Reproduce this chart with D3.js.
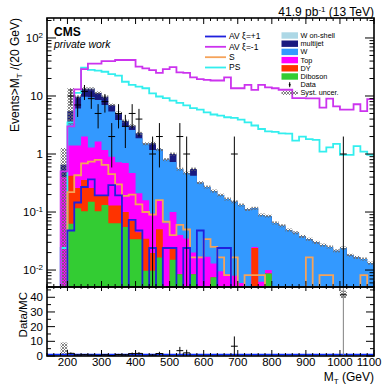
<!DOCTYPE html>
<html>
<head>
<meta charset="utf-8">
<script src="https://cdn.jsdelivr.net/npm/d3@7"></script>
<style>
  html, body { margin: 0; padding: 0; background: #fff; }
  svg { display: block; font-family: "Liberation Sans", Arial, Helvetica, sans-serif; }
</style>
</head>
<body>
<svg id="chart" width="382" height="387"></svg>
<script>
// ---- binning: 48 bins of 20 GeV in M_T, 140 - 1100 GeV ----
const edges = d3.range(140, 1101, 20);

// ---- background stack (events per bin) ----
const diboson = [0,0,0,0.063,0.116,0.103,0.15,0.103,0.132,0.064,0.064,0.055,0.034,0.034,0.0097,0.0097,
  0.0165,0,0.015,0.0085,0,0.0085,0,0,0.0075,0,0,0,0,0,0,0,
  0.0087,0,0,0,0,0,0,0,0,0,0,0,0,0,0,0];
const dy = [0,0,0,0.357,0.144,0.253,0.11,0.087,0.058,0.066,0.066,0.045,0.036,0.011,0.025,0.010,
  0.034,0,0.01,0,0,0,0,0,0,0,0,0,0,0,0.024,0,
  0,0,0,0,0,0,0,0,0,0,0,0,0,0,0,0];
const topQuark = [0,0,0.40,0.98,1.14,1.64,1.04,1.46,0.98,0.77,0.59,0.60,0.40,0.165,0.125,0.075,
  0.11,0.064,0.075,0.0315,0.035,0.0115,0.017,0.017,0.0055,0.0095,0.0085,0.008,0.006,0,0.001,0.0063,
  0.0013,0,0,0,0,0,0,0,0,0,0,0,0,0,0,0];
const wJets = [0,0,0,2.0,4.7,7.7,8.2,6.85,5.83,4.5,3.13,2.26,2.13,1.66,1.34,1.075,
  1.03,0.736,0.63,0.51,0.435,0.40,0.303,0.253,0.217,0.1865,0.1595,0.142,0.126,0.111,0.091,0.0827,
  0.075,0.065,0.058,0.049,0.044,0.038,0.034,0.030,0.027,0.025,0.0215,0.024,0.018,0.0165,0.0155,0.0132];
const multijet = [0,0,0.25,2.1,3.6,3.6,3.8,2.8,2.7,1.6,1.25,0.74,0.47,0.4,0,0.36,
  0,0,0.27,0,0,0.13,0,0,0,0,0,0,0,0,0,0,
  0,0,0,0,0,0,0,0,0,0,0,0,0,0,0,0];
const wOnShell = [0,0,0,0,0,0,0,0,0,0,0,0,0,0,0,0,
  0,0,0,0,0,0,0,0,0,0,0,0,0,0,0,0,
  0,0,0,0,0,0,0,0,0,0,0,0,0,0,0,0];

// ---- relative systematic uncertainty on the total (up / down) ----
const sysUp = [0,0,0.95,1.49,0.06,0.06,0.06,0.06,0.06,0.06,0.06,0.06,0.06,0.06,0.06,0.06,
  0.06,0.06,0.06,0.06,0.06,0.06,0.06,0.06,0.06,0.06,0.06,0.06,0.06,0.06,0.06,0.06,
  0.06,0.06,0.06,0.06,0.06,0.06,0.06,0.06,0.06,0.06,0.06,0.06,0.06,0.06,0.06,0.06];
const sysDown = [0,0,1.0,0.42,0.06,0.06,0.06,0.06,0.06,0.06,0.06,0.06,0.06,0.06,0.06,0.06,
  0.06,0.06,0.06,0.06,0.06,0.06,0.06,0.06,0.06,0.06,0.06,0.06,0.06,0.06,0.06,0.06,
  0.06,0.06,0.06,0.06,0.06,0.06,0.06,0.06,0.06,0.06,0.06,0.06,0.06,0.06,0.06,0.06];

// ---- signal hypotheses ----
const avPlus = [0,0,0,0.048,0.146,0.27,0.364,0.194,0.194,0.29,0.194,0,0.073,0.048,0,0.024,
  0,0.024,0.024,0,0.024,0,0.048,0,0,0.024,0.024,0,0,0,0,0,
  0,0,0,0,0,0,0,0,0,0,0,0,0,0,0,0];
const avMinus = [0,0,0.5,3.0,13,29,36,36,40,40,41.7,41.7,41.7,32,30,28,
  25,29,31.5,25.5,25,21,19.5,19,18.5,18.5,21,13.6,13.6,15.5,12.7,15.5,
  14.1,13.6,12.8,12.8,9.2,9.2,9.1,9.1,6.3,9.0,6.6,5.8,5.8,7.2,5.5,8.8];
const sScalar = [0,0,0,0.22,0.43,0.69,0.74,0.79,0.65,0.45,0.30,0.19,0.20,0.135,0.10,0.09,
  0.16,0.068,0.04,0.060,0.050,0.0165,0.0165,0.034,0.025,0.0165,0.0082,0.0165,0,0.0082,0.0082,0.0082,
  0,0,0,0,0,0,0.0165,0,0.0082,0.0082,0,0,0,0,0.0082,0];
const psScalar = [0,0,0.024,3.5,11.3,30.7,28.1,27.3,26.2,23.9,22.4,17.6,15.5,14.5,13.6,11.1,
  9.8,9.2,8.3,7.6,6.9,6.2,5.8,5.2,4.8,4.6,4.3,4.2,3.9,3.5,3.1,2.7,
  2.45,2.4,2.27,2.25,1.7,2.0,1.8,1.75,1.1,1.3,1.5,0.97,0.97,1.37,1.1,0.97];

// ---- observed events ----
const dataObs = [0,0,0,10,7,12,9,5,8,2,5,3,5,4,0,1,
  2,0,0,2,1,0,0,0,0,0,0,1,0,0,0,0,
  0,0,0,0,0,0,0,0,0,0,0,1,0,0,0,0];

// ---- ratio-pad uncertainty boxes ----
const ratioBandBins = [2, 43];
const ratioBandLo = [1.4, 39.5];
const ratioBandHi = [9.2, 44.5];

// ---- axis ticks ----
const xMajorTicks = [200,300,400,500,600,700,800,900,1000,1100];
const yDecades = [0.01, 0.1, 1, 10, 100];
const yDecadeLabels = [["10","-2"],["10","-1"],["1",""],["10",""],["10","2"]];
const ratioTicks = [0,10,20,30,40];

// ---- geometry ----
const F = {x0: 47, x1: 374, y0: 18, y1: 287};
const R = {y0: 287, y1: 356};
const x = d3.scaleLinear().domain([140, 1100]).range([F.x0, F.x1]);
const y = d3.scaleLog().domain([0.0051, 221]).range([F.y1, F.y0]);
const yr = d3.scaleLinear().domain([0, 47]).range([R.y1, R.y0]);
const BOT = F.y1 + 4;
const yv = v => v > 0 ? y(v) : BOT;

const svg = d3.select("#chart");
const defs = svg.append("defs");
defs.append("clipPath").attr("id", "clipMain").append("rect")
  .attr("x", F.x0).attr("y", F.y0).attr("width", F.x1 - F.x0).attr("height", F.y1 - F.y0);
defs.append("clipPath").attr("id", "clipRatio").append("rect")
  .attr("x", F.x0).attr("y", R.y0).attr("width", F.x1 - F.x0).attr("height", R.y1 - R.y0);
const pat = defs.append("pattern").attr("id", "hatch")
  .attr("patternUnits", "userSpaceOnUse").attr("width", 3).attr("height", 3);
pat.append("path").attr("d", "M0,0L3,3M3,0L0,3").attr("stroke", "#6a6a6a").attr("stroke-width", 0.8);

// stacked components, bottom to top
const stackDefs = [
  {name: "Diboson",    color: "#33cc33", vals: diboson},
  {name: "DY",         color: "#ff3300", vals: dy},
  {name: "Top",        color: "#ff00ff", vals: topQuark},
  {name: "W",          color: "#3399ff", vals: wJets},
  {name: "multijet",   color: "#1a1a80", vals: multijet},
  {name: "W on-shell", color: "#add8e6", vals: wOnShell}
];
let running = edges.slice(0, -1).map(() => 0);
stackDefs.forEach(s => {
  running = running.map((r, i) => r + s.vals[i]);
  s.cum = running.slice();
});
const total = stackDefs[stackDefs.length - 1].cum;

const stepPts = vals => edges.map((e, i) => ({e: e, v: vals[Math.min(i, vals.length - 1)]}));
const areaGen = d3.area().x(d => x(d.e)).y0(BOT).y1(d => yv(d.v)).curve(d3.curveStepAfter);
const lineGen = d3.line().x(d => x(d.e)).y(d => yv(d.v)).curve(d3.curveStepAfter);

const main = svg.append("g").attr("clip-path", "url(#clipMain)");

// filled stack, outermost cumulative first
stackDefs.slice().reverse().forEach(s => {
  main.append("path").attr("d", areaGen(stepPts(s.cum))).attr("fill", s.color).attr("stroke", "none");
});

// systematic band on the total
main.append("g").selectAll("rect").data(total.map((t, i) => ({t, i})).filter(d => d.t > 0))
  .join("rect")
  .attr("x", d => x(edges[d.i])).attr("width", d => x(edges[d.i + 1]) - x(edges[d.i]))
  .attr("y", d => yv(d.t * (1 + sysUp[d.i])))
  .attr("height", d => yv(d.t * (1 - sysDown[d.i])) - yv(d.t * (1 + sysUp[d.i])))
  .attr("fill", "url(#hatch)");

// signal outlines
const signals = [
  {name: "PS",      color: "#33eeee", vals: psScalar},
  {name: "AV ξ=-1", color: "#cc33ee", vals: avMinus},
  {name: "S",       color: "#f5a35a", vals: sScalar},
  {name: "AV ξ=+1", color: "#2020dd", vals: avPlus}
];
signals.forEach(s => {
  main.append("path").attr("d", lineGen(stepPts(s.vals)))
    .attr("fill", "none").attr("stroke", s.color).attr("stroke-width", 1.8);
});

// data points with sqrt(N) errors
const obs = dataObs.map((n, i) => ({n, i})).filter(d => d.n > 0);
const dg = main.append("g").attr("stroke", "#000").attr("stroke-width", 1);
obs.forEach(d => {
  const cx = (x(edges[d.i]) + x(edges[d.i + 1])) / 2;
  const err = Math.sqrt(d.n);
  dg.append("line").attr("x1", cx).attr("x2", cx)
    .attr("y1", yv(d.n + err)).attr("y2", yv(d.n - err));
  dg.append("line").attr("x1", x(edges[d.i])).attr("x2", x(edges[d.i + 1]))
    .attr("y1", y(d.n)).attr("y2", y(d.n));
});

// ---- ratio pad ----
const ratio = svg.append("g").attr("clip-path", "url(#clipRatio)");
ratioBandBins.forEach((b, k) => {
  ratio.append("rect").attr("x", x(edges[b])).attr("width", x(edges[b + 1]) - x(edges[b]))
    .attr("y", yr(ratioBandHi[k])).attr("height", yr(ratioBandLo[k]) - yr(ratioBandHi[k]))
    .attr("fill", "url(#hatch)");
});
ratio.append("line").attr("x1", F.x0).attr("x2", F.x1).attr("y1", yr(1)).attr("y2", yr(1))
  .attr("stroke", "#0a2cff").attr("stroke-width", 1.8);
const rg = ratio.append("g").attr("stroke", "#000").attr("stroke-width", 1);
obs.forEach(d => {
  const mc = total[d.i];
  const r = d.n / mc, e = Math.sqrt(d.n) / mc;
  const cx = (x(edges[d.i]) + x(edges[d.i + 1])) / 2;
  rg.append("line").attr("x1", cx).attr("x2", cx)
    .attr("y1", yr(r + e)).attr("y2", yr(Math.max(0, r - e)))
    .attr("stroke", d.n === 1 && r > 20 ? "#808080" : "#000");
  rg.append("line").attr("x1", x(edges[d.i])).attr("x2", x(edges[d.i + 1]))
    .attr("y1", yr(r)).attr("y2", yr(r));
});

// ---- frames and ticks ----
const axes = svg.append("g").attr("stroke", "#000").attr("fill", "none");
axes.append("rect").attr("x", F.x0).attr("y", F.y0).attr("width", F.x1 - F.x0).attr("height", F.y1 - F.y0)
  .attr("stroke-width", 1.6);
axes.append("rect").attr("x", F.x0).attr("y", R.y0).attr("width", F.x1 - F.x0).attr("height", R.y1 - R.y0)
  .attr("stroke-width", 1.6);

const xMinor = d3.range(140, 1101, 20).filter(v => !xMajorTicks.includes(v));
function xTicks(yBase, dir, majLen, minLen) {
  xMajorTicks.forEach(v => axes.append("line").attr("x1", x(v)).attr("x2", x(v))
    .attr("y1", yBase).attr("y2", yBase + dir * majLen).attr("stroke-width", 1));
  xMinor.forEach(v => axes.append("line").attr("x1", x(v)).attr("x2", x(v))
    .attr("y1", yBase).attr("y2", yBase + dir * minLen).attr("stroke-width", 1));
}
xTicks(F.y0, 1, 6, 3);
xTicks(F.y1, -1, 6, 3);
xTicks(R.y0, 1, 4, 2);
xTicks(R.y1, -1, 6, 3);

// log y ticks on both sides
const yMinor = [];
[0.001, 0.01, 0.1, 1, 10, 100].forEach(d => d3.range(2, 10).forEach(m => {
  const v = d * m;
  if (v >= 0.0051 && v <= 221) yMinor.push(v);
}));
[[F.x0, 1], [F.x1, -1]].forEach(([xb, dir]) => {
  yDecades.forEach(v => axes.append("line").attr("x1", xb).attr("x2", xb + dir * 9)
    .attr("y1", y(v)).attr("y2", y(v)).attr("stroke-width", 1));
  yMinor.forEach(v => axes.append("line").attr("x1", xb).attr("x2", xb + dir * 4.5)
    .attr("y1", y(v)).attr("y2", y(v)).attr("stroke-width", 1));
});
// ratio y ticks on both sides
[[F.x0, 1], [F.x1, -1]].forEach(([xb, dir]) => {
  d3.range(0, 46, 5).forEach(v => axes.append("line").attr("x1", xb)
    .attr("x2", xb + dir * (v % 10 === 0 ? 8 : 4))
    .attr("y1", yr(v)).attr("y2", yr(v)).attr("stroke-width", 1));
});

// ---- labels ----
const txt = svg.append("g").attr("fill", "#000");
yDecades.forEach((v, k) => {
  const [base, exp] = yDecadeLabels[k];
  const t = txt.append("text").attr("x", 43).attr("y", y(v)).attr("dy", "0.36em")
    .attr("text-anchor", "end").attr("font-size", 11.5);
  t.append("tspan").text(base);
  if (exp) t.append("tspan").attr("font-size", 8).attr("dy", "-0.55em").text(exp);
});
ratioTicks.forEach(v => {
  txt.append("text").attr("x", 43).attr("y", yr(v)).attr("dy", "0.36em")
    .attr("text-anchor", "end").attr("font-size", 11.5).text(v);
});
xMajorTicks.forEach((v, k) => {
  const last = k === xMajorTicks.length - 1;
  txt.append("text").attr("x", last ? 381.5 : x(v)).attr("y", 366)
    .attr("text-anchor", last ? "end" : "middle")
    .attr("font-size", 11.5).text(v);
});

// axis titles
const xt = txt.append("text").attr("x", 374).attr("y", 381).attr("text-anchor", "end").attr("font-size", 12);
xt.append("tspan").text("M");
xt.append("tspan").attr("font-size", 8).attr("dy", "0.35em").text("T");
xt.append("tspan").attr("dy", "-0.25em").text(" (GeV)");

const yt = txt.append("text").attr("transform", "translate(19,18) rotate(-90)")
  .attr("text-anchor", "end").attr("font-size", 12);
yt.append("tspan").text("Events>M");
yt.append("tspan").attr("font-size", 8).attr("dy", "0.35em").text("T");
yt.append("tspan").attr("dy", "-0.25em").text(" /(20 GeV)");

txt.append("text").attr("transform", "translate(26.5,292) rotate(-90)")
  .attr("text-anchor", "end").attr("font-size", 11.5).text("Data/MC");

const lumi = txt.append("text").attr("x", 374).attr("y", 16).attr("text-anchor", "end").attr("font-size", 12);
lumi.append("tspan").text("41.9 pb");
lumi.append("tspan").attr("font-size", 8).attr("dy", "-0.55em").text("-1");
lumi.append("tspan").attr("dy", "0.35em").text(" (13 TeV)");

txt.append("text").attr("x", 54).attr("y", 35.5).attr("font-size", 12).attr("font-weight", "bold").text("CMS");
txt.append("text").attr("x", 54).attr("y", 48).attr("font-size", 10.5).attr("font-style", "italic").text("private work");

// ---- legend ----
const leg = svg.append("g");
const legLeftRows = [36.5, 46.8, 57.2, 67.5];
const legLeft = [signals[3], signals[1], signals[2], signals[0]];
legLeft.forEach((s, k) => {
  leg.append("line").attr("x1", 205).attr("x2", 226).attr("y1", legLeftRows[k]).attr("y2", legLeftRows[k])
    .attr("stroke", s.color).attr("stroke-width", 1.8);
  leg.append("text").attr("x", 229).attr("y", legLeftRows[k]).attr("dy", "0.35em")
    .attr("font-size", 8.5).text(s.name);
});
const legRightRows = [35.5, 43.7, 51.9, 60.1, 68.3, 76.5, 84.7, 92.9];
const legFont = 7.3;
const legStack = stackDefs.slice().reverse();
legStack.forEach((s, k) => {
  leg.append("rect").attr("x", 281.5).attr("y", legRightRows[k] - 3.2).attr("width", 16.5).attr("height", 6.4)
    .attr("fill", s.color);
  leg.append("text").attr("x", 300.5).attr("y", legRightRows[k]).attr("dy", "0.35em")
    .attr("font-size", legFont).text(s.name);
});
// data entry
leg.append("line").attr("x1", 289.7).attr("x2", 289.7).attr("y1", legRightRows[6] - 2.5).attr("y2", legRightRows[6] + 2.5)
  .attr("stroke", "#000").attr("stroke-width", 1);
leg.append("circle").attr("cx", 289.7).attr("cy", legRightRows[6]).attr("r", 1).attr("fill", "#000");
leg.append("text").attr("x", 300.5).attr("y", legRightRows[6]).attr("dy", "0.35em").attr("font-size", legFont).text("Data");
// uncertainty entry
leg.append("rect").attr("x", 281.5).attr("y", legRightRows[7] - 2).attr("width", 16.5).attr("height", 4)
  .attr("fill", "url(#hatch)");
leg.append("text").attr("x", 300.5).attr("y", legRightRows[7]).attr("dy", "0.35em").attr("font-size", legFont).text("Syst. uncer.");
</script>
</body>
</html>
